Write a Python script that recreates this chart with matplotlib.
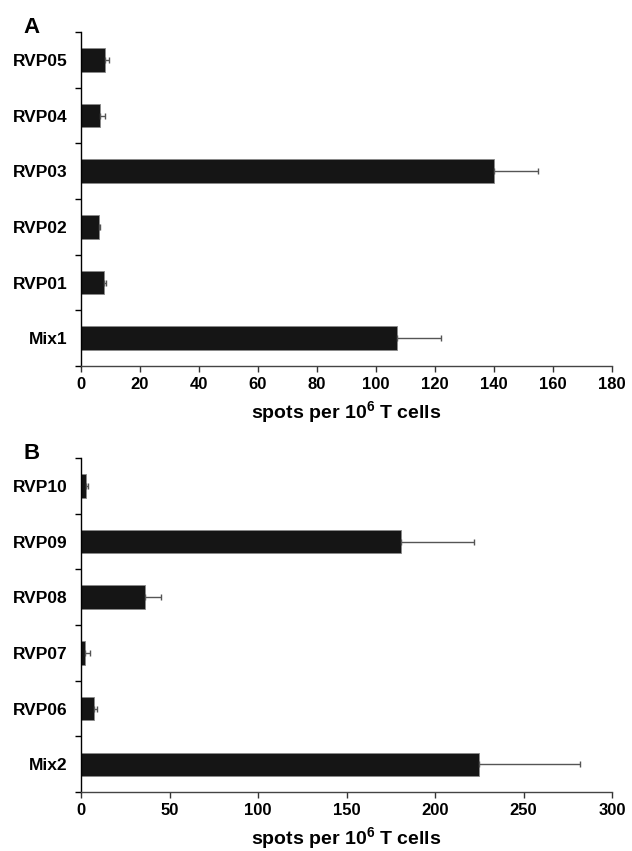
import matplotlib
matplotlib.use("Agg")
import matplotlib.pyplot as plt
from matplotlib.ticker import FixedLocator, MultipleLocator

# =============================================================================
# data (top row first)
# =============================================================================
labels_a = ["RVP05", "RVP04", "RVP03", "RVP02", "RVP01", "Mix1"]
values_a = [8.1, 6.4, 140.0, 6.0, 7.7, 107.0]
errors_a = [1.4, 1.8, 15.0, 0.6, 0.6, 15.0]

labels_b = ["RVP10", "RVP09", "RVP08", "RVP07", "RVP06", "Mix2"]
values_b = [3.0, 181.0, 36.0, 2.0, 7.3, 225.0]
errors_b = [1.0, 41.0, 9.0, 3.0, 1.7, 57.0]

XLABEL = r"spots per 10$^{6}$ T cells"

# =============================================================================
# style
# =============================================================================
plt.rcParams.update({
    "font.family": ["Liberation Sans", "DejaVu Sans"],
    "font.weight": "bold",
    "mathtext.fontset": "custom",
    "mathtext.rm": "Liberation Sans:bold",
    "mathtext.it": "Liberation Sans:bold",
    "mathtext.bf": "Liberation Sans:bold",
    "mathtext.default": "regular",
    "axes.linewidth": 1.0,
})

BAR_COLOR = "#151515"
ERR_COLOR = "#555555"


def draw_panel(ax, labels, values, errors, xmax, xstep, letter):
    n = len(labels)
    pos = list(range(n))
    ax.barh(pos, values, height=0.42, color=BAR_COLOR, edgecolor="#8a8a8a",
            linewidth=0.6, zorder=2)
    ax.errorbar(values, pos, xerr=[[0] * n, errors], fmt="none",
                ecolor=ERR_COLOR, elinewidth=1.0, capsize=2, capthick=1.0,
                zorder=3)

    ax.set_ylim(n - 0.5, -0.5)
    ax.set_xlim(0, xmax)

    # boundary ticks on the y axis, labels centred on the bars
    ax.yaxis.set_major_locator(FixedLocator([i - 0.5 for i in range(n + 1)]))
    ax.yaxis.set_minor_locator(FixedLocator(pos))
    ax.set_yticklabels([], minor=False)
    ax.set_yticklabels(labels, minor=True, fontsize=12.5, fontweight="bold")
    ax.tick_params(axis="y", which="major", direction="out", length=4, width=1)
    ax.tick_params(axis="y", which="minor", length=0, pad=10)

    ax.xaxis.set_major_locator(MultipleLocator(xstep))
    ax.tick_params(axis="x", direction="out", length=4, width=1,
                   labelsize=12, pad=4, color="#333333")
    for t in ax.get_xticklabels():
        t.set_fontweight("bold")

    ax.spines["top"].set_visible(False)
    ax.spines["right"].set_visible(False)
    ax.spines["left"].set_color("black")
    ax.spines["bottom"].set_color("#444444")

    ax.set_xlabel(XLABEL, fontsize=14, fontweight="bold", labelpad=5)
    ax.text(-0.109, 0.997, letter, transform=ax.transAxes, fontsize=16,
            fontweight="bold", ha="left", va="baseline")


fig = plt.figure(figsize=(6.32, 8.51), dpi=100)
ax_a = fig.add_axes([0.1282, 0.5699, 0.8402, 0.3925])
ax_b = fig.add_axes([0.1282, 0.0693, 0.8402, 0.3925])

draw_panel(ax_a, labels_a, values_a, errors_a, 180, 20, "A")
draw_panel(ax_b, labels_b, values_b, errors_b, 300, 50, "B")

fig.savefig("out.png", dpi=100)
